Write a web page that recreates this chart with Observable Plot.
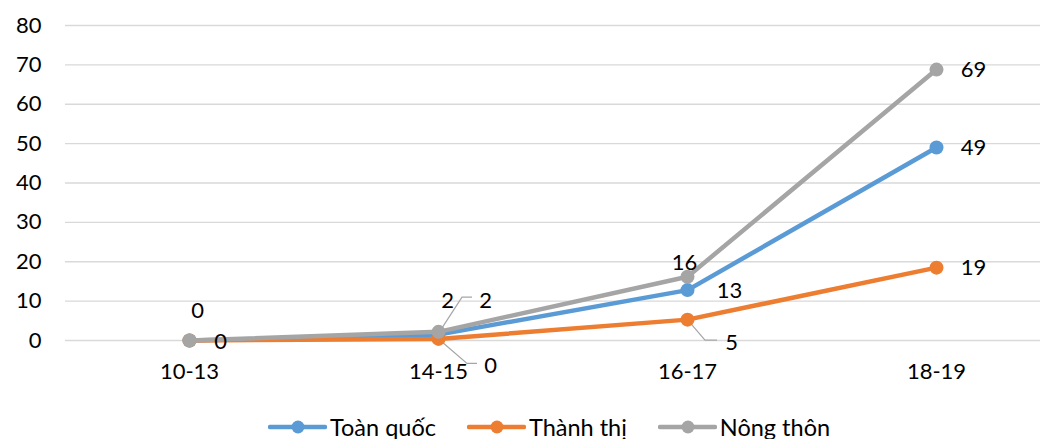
<!DOCTYPE html>
<html>
<head>
<meta charset="utf-8">
<script src="https://cdn.jsdelivr.net/npm/d3@7"></script>
<script src="https://cdn.jsdelivr.net/npm/@observablehq/plot@0.6"></script>
<style>
  html, body { margin: 0; padding: 0; background: #fff; overflow: hidden; }
  #wrap { width: 1055px; height: 439px; position: relative; font-family: Lato, sans-serif; }
  #legend { position: absolute; left: 268px; top: 407px; height: 40px; display: flex; align-items: center; gap: 31px; font-size: 23.5px; color: #000; }
  .item { display: flex; align-items: center; }
  .item span { margin-left: 3px; }
</style>
</head>
<body>
<div id="wrap"><div id="chart"></div><div id="legend"></div></div>
<script>
// ---- data ----
const categories = ["10-13", "14-15", "16-17", "18-19"];
const seriesNames = ["Toàn quốc", "Thành thị", "Nông thôn"];
const toanQuoc = [0, 1.5, 12.8, 49];
const thanhThi = [0, 0.4, 5.3, 18.5];
const nongThon = [0, 2.2, 16.2, 68.8];
const yTicks = [0, 10, 20, 30, 40, 50, 60, 70, 80];

// ---- styling ----
const colors = {"Toàn quốc": "#5b9bd5", "Thành thị": "#ed7d31", "Nông thôn": "#a5a5a5"};
const seriesValues = {"Toàn quốc": toanQuoc, "Thành thị": thanhThi, "Nông thôn": nongThon};

const rows = seriesNames.flatMap(s => categories.map((c, i) => ({series: s, cat: c, value: seriesValues[s][i]})));
const find = (s, c) => rows.find(r => r.series === s && r.cat === c);

// label placement (pixel offsets), optional leader polyline offsets
const placement = [
  ["Nông thôn", "10-13", 8, -30],
  ["Thành thị", "10-13", 31, 1],
  ["Nông thôn", "14-15", 9, -31],
  ["Toàn quốc", "14-15", 47, -34, [[0,0],[24,-37],[34,-37]]],
  ["Thành thị", "14-15", 52, 27, [[0,0],[29,25],[39,25]]],
  ["Nông thôn", "16-17", -3, -14],
  ["Toàn quốc", "16-17", 42, 1],
  ["Thành thị", "16-17", 44, 23, [[0,0],[18,21],[30,21]]],
  ["Nông thôn", "18-19", 37, 0],
  ["Toàn quốc", "18-19", 37, 0],
  ["Thành thị", "18-19", 37, 0]
];

const lineMarks = seriesNames.flatMap(s => [
  Plot.line(rows.filter(r => r.series === s), {x: "cat", y: "value", stroke: colors[s], strokeWidth: 4.5, strokeLinecap: "round", strokeLinejoin: "round"}),
  Plot.dot(rows.filter(r => r.series === s), {x: "cat", y: "value", fill: colors[s], r: 7})
]);

const labelMarks = placement.map(([s, c, dx, dy]) =>
  Plot.text([find(s, c)], {x: "cat", y: "value", text: d => String(Math.round(d.value)), dx, dy, fill: "#000", fontSize: 22, textAnchor: "middle"})
);

const leaders = (index, scales) => {
  const g = d3.create("svg:g").attr("fill", "none").attr("stroke", "#a6a6a6").attr("stroke-width", 1.2);
  for (const p of placement) {
    if (!p[4]) continue;
    const d = find(p[0], p[1]);
    const px = scales.x(d.cat), py = scales.y(d.value);
    g.append("polyline").attr("points", p[4].map(([a, b]) => `${px + a},${py + b}`).join(" "));
  }
  return g.node();
};

const chart = Plot.plot({
  width: 1055,
  height: 405,
  marginLeft: 65,
  marginRight: 15,
  marginTop: 25,
  marginBottom: 65,
  style: {fontFamily: "Lato, sans-serif", fontSize: "22px", color: "#000", background: "transparent"},
  x: {type: "point", domain: categories, range: [189, 936], padding: 0, tickSize: 0, tickPadding: 23, label: null},
  y: {domain: [0, 80], ticks: yTicks, tickSize: 0, tickPadding: 24, label: null},
  marks: [
    Plot.ruleY(yTicks, {stroke: "#d9d9d9", strokeWidth: 1.3}),
    leaders,
    ...lineMarks,
    ...labelMarks
  ]
});
document.getElementById("chart").appendChild(chart);

// legend
const legend = document.getElementById("legend");
for (const s of seriesNames) {
  const item = document.createElement("div");
  item.className = "item";
  item.innerHTML = `<svg width="59" height="16"><line x1="2" y1="8" x2="57" y2="8" stroke="${colors[s]}" stroke-width="4.5" stroke-linecap="round"/><circle cx="30" cy="8" r="6.5" fill="${colors[s]}"/></svg><span>${s}</span>`;
  legend.appendChild(item);
}
</script>
</body>
</html>
